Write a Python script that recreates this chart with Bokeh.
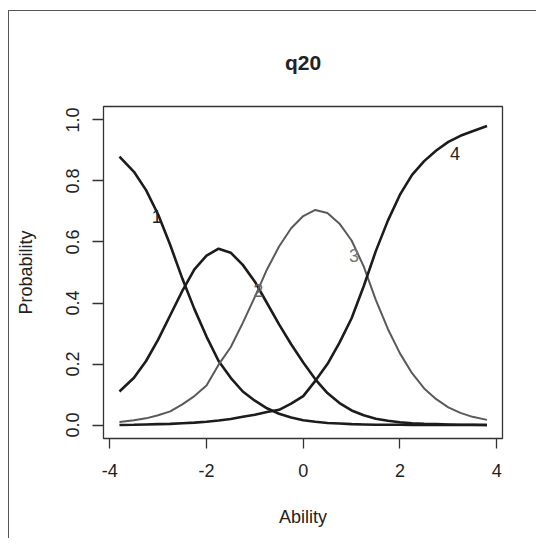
from bokeh.plotting import figure
from bokeh.models import Range1d, FixedTicker, ColumnDataSource
from bokeh.core.properties import value
from bokeh.embed import file_html
from bokeh.resources import INLINE

# Ability grid (x) and category response probabilities
ability = [-3.8, -3.5, -3.25, -3.0, -2.75, -2.5, -2.25, -2.0, -1.75, -1.5, -1.25, -1.0,
           -0.75, -0.5, -0.25, 0.0, 0.25, 0.5, 0.75, 1.0, 1.25, 1.5, 1.75, 2.0,
           2.25, 2.5, 2.75, 3.0, 3.25, 3.5, 3.8]
cat1 = [0.88, 0.83, 0.77, 0.69, 0.59, 0.48, 0.38, 0.29, 0.21, 0.155, 0.11, 0.08,
        0.055, 0.037, 0.025, 0.016, 0.011, 0.007, 0.005, 0.003, 0.002, 0.001, 0.001, 0.001,
        0.0, 0.0, 0.0, 0.0, 0.0, 0.0, 0.0]
cat2 = [0.11, 0.155, 0.21, 0.28, 0.36, 0.44, 0.51, 0.555, 0.578, 0.565, 0.525, 0.47,
        0.40, 0.33, 0.265, 0.205, 0.15, 0.105, 0.072, 0.048, 0.032, 0.021, 0.014, 0.009,
        0.006, 0.004, 0.003, 0.002, 0.001, 0.001, 0.0]
cat3 = [0.01, 0.016, 0.022, 0.032, 0.045, 0.068, 0.095, 0.13, 0.198, 0.255, 0.335, 0.42,
        0.51, 0.585, 0.645, 0.685, 0.705, 0.695, 0.66, 0.605, 0.52, 0.41, 0.315, 0.235,
        0.17, 0.12, 0.085, 0.058, 0.04, 0.027, 0.017]
cat4 = [0.0, 0.001, 0.002, 0.003, 0.004, 0.006, 0.008, 0.011, 0.015, 0.02, 0.027, 0.034,
        0.043, 0.05, 0.07, 0.095, 0.145, 0.2, 0.27, 0.35, 0.455, 0.57, 0.67, 0.755,
        0.82, 0.865, 0.9, 0.928, 0.948, 0.963, 0.98]

category_labels = ["1", "2", "3", "4"]
label_x = [-3.03, -0.93, 1.05, 3.14]
label_y = [0.682, 0.442, 0.557, 0.89]

x_ticks = [-4, -2, 0, 2, 4]
y_ticks = [0.0, 0.2, 0.4, 0.6, 0.8, 1.0]

FONT = "Liberation Sans"

p = figure(
    output_backend="svg", toolbar_location=None,
    frame_width=399, frame_height=332,
    min_border_left=94, min_border_right=34, min_border_top=95, min_border_bottom=100,
    x_range=Range1d(-4.13, 4.12), y_range=Range1d(-0.044, 1.044),
    title="q20",
)
p.styles = {"border-left": "1.5px solid #555", "border-top": "1.5px solid #555",
            "margin-left": "8px", "margin-top": "10px"}
p.background_fill_color = "white"
p.border_fill_color = "white"
p.outline_line_color = "#333333"
p.outline_line_width = 1.3
p.grid.visible = False

p.title.text_font = FONT
p.title.text_font_size = "21px"
p.title.text_font_style = "bold"
p.title.text_color = "#222222"
p.title.align = "center"
p.title.standoff = 65

for ax in (p.xaxis[0], p.yaxis[0]):
    ax.axis_line_color = None
    ax.minor_tick_line_color = None
    ax.major_tick_in = 0
    ax.major_tick_line_color = "#333333"
    ax.major_tick_line_width = 1.3
    ax.major_label_text_font = FONT
    ax.major_label_text_font_size = "18px"
    ax.major_label_text_color = "#222222"
    ax.axis_label_text_font = FONT
    ax.axis_label_text_font_size = "18px"
    ax.axis_label_text_font_style = "normal"
    ax.axis_label_text_color = "#222222"

p.xaxis.ticker = FixedTicker(ticks=x_ticks)
p.xaxis.major_label_overrides = {t: str(t) for t in x_ticks}
p.xaxis.major_tick_out = 10
p.xaxis.major_label_standoff = 15
p.xaxis.axis_label = "Ability"
p.xaxis.axis_label_standoff = 27

p.yaxis.ticker = FixedTicker(ticks=y_ticks)
p.yaxis.major_label_overrides = {t: f"{t:.1f}" for t in y_ticks}
p.yaxis.major_tick_out = 11
p.yaxis.major_label_standoff = 13
p.yaxis.major_label_orientation = "vertical"
p.yaxis.axis_label = "Probability"
p.yaxis.axis_label_standoff = 28

src = ColumnDataSource(dict(x=ability, c1=cat1, c2=cat2, c3=cat3, c4=cat4))
p.line("x", "c1", source=src, line_color="#1c1c1c", line_width=2.6)
p.line("x", "c2", source=src, line_color="#1c1c1c", line_width=2.6)
p.line("x", "c3", source=src, line_color="#5a5a5a", line_width=2.0)
p.line("x", "c4", source=src, line_color="#1c1c1c", line_width=2.6)

lsrc = ColumnDataSource(dict(x=label_x, y=label_y, t=category_labels,
                             c=["#222222", "#666666", "#777777", "#222222"]))
p.text("x", "y", text="t", source=lsrc, text_color="c", text_align="center",
       text_baseline="middle", text_font=value(FONT), text_font_size="18px")

open("out.html", "w").write(file_html(p, INLINE))
